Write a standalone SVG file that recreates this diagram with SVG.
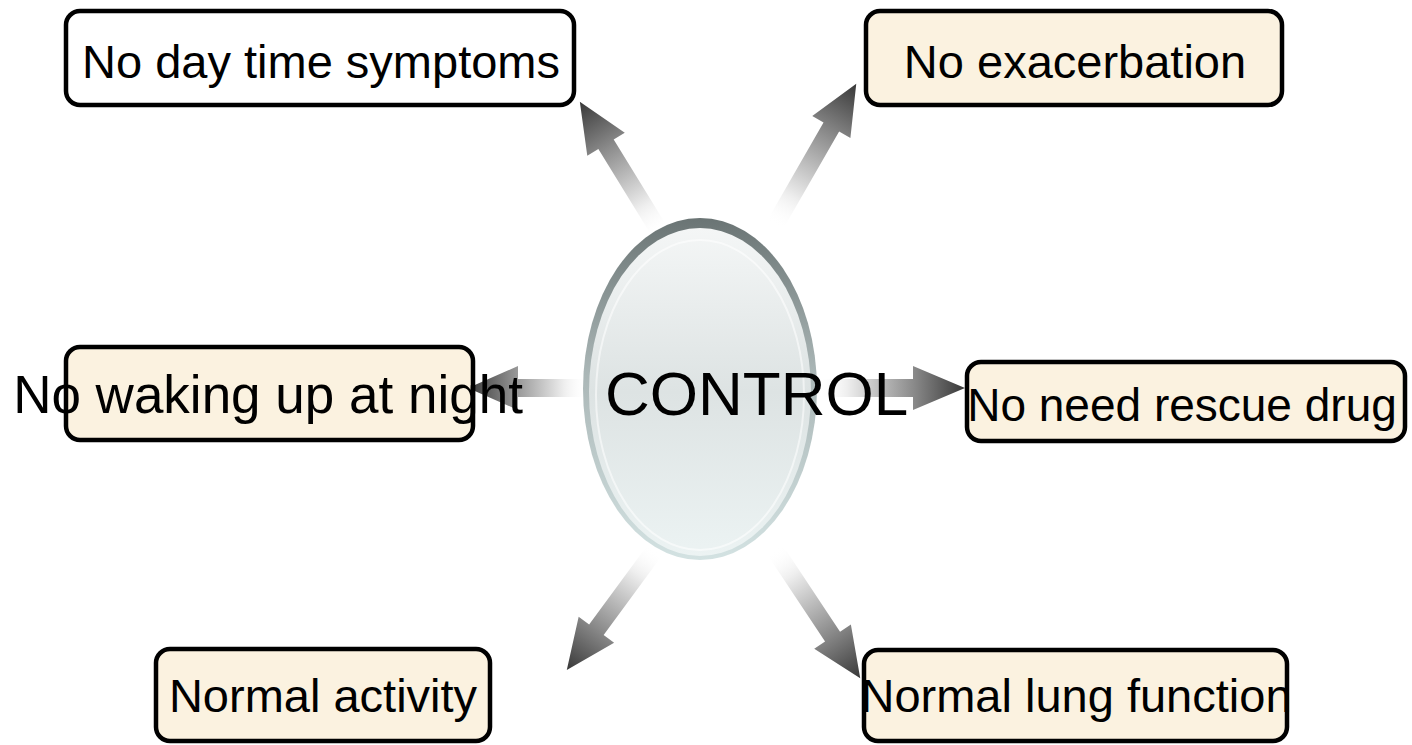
<svg xmlns="http://www.w3.org/2000/svg" width="1412" height="745" viewBox="0 0 1412 745">
<defs>
<style>
.box{stroke:#000;stroke-width:4.5}
.cream{fill:#FBF2E0}
.white{fill:#fff}
.lbl{font-family:"Liberation Sans",Arial,sans-serif;fill:#000;text-anchor:middle}
</style>
<linearGradient id="arr" x1="0" y1="0" x2="1" y2="0">
<stop offset="0" stop-color="#ffffff" stop-opacity="0"/>
<stop offset="0.2" stop-color="#eeeeee"/>
<stop offset="0.65" stop-color="#8a8a8a"/>
<stop offset="1" stop-color="#383838"/>
</linearGradient>
<linearGradient id="ring" x1="0" y1="0" x2="0" y2="1">
<stop offset="0" stop-color="#6a7474"/>
<stop offset="0.45" stop-color="#aab6b6"/>
<stop offset="1" stop-color="#d3e2e2"/>
</linearGradient>
<linearGradient id="face" x1="0" y1="0" x2="0" y2="1">
<stop offset="0" stop-color="#f4f6f6"/>
<stop offset="0.5" stop-color="#dde3e3"/>
<stop offset="1" stop-color="#ecf3f3"/>
</linearGradient>
<path id="arrow" d="M0,-9 L-50,-9 L-50,-23 L0,0 Z"/>
</defs>

<g id="connectors">
<polygon fill="url(#arr)" points="0,-9 0,9 103,9 103,22 153,0 103,-22 103,-9" transform="translate(660,232) rotate(-121.6)"/>
<polygon fill="url(#arr)" points="0,-9 0,9 113,9 113,22 163,0 113,-22 113,-9" transform="translate(775,225) rotate(-60.1)"/>
<polygon fill="url(#arr)" points="0,-9 0,9 99,9 99,22 149,0 99,-22 99,-9" transform="translate(655,550) rotate(126.3)"/>
<polygon fill="url(#arr)" points="0,-9 0,9 104,9 104,22 154,0 104,-22 104,-9" transform="translate(775,550) rotate(56.4)"/>
<polygon fill="url(#arr)" points="0,-9 0,9 70,9 70,22 120,0 70,-22 70,-9" transform="translate(588,388) rotate(180)"/>
<polygon fill="url(#arr)" points="0,-9 0,9 95,9 95,22 147,0 95,-22 95,-9" transform="translate(818,388)"/>
</g>

<g id="control">
<ellipse cx="700" cy="389" rx="117" ry="171" fill="url(#ring)"/>
<ellipse cx="700" cy="392" rx="111" ry="164" fill="url(#face)"/>
<ellipse cx="700" cy="395" rx="104" ry="155" fill="none" stroke="#ffffff" stroke-opacity="0.55" stroke-width="2"/>
<text x="605" y="415" font-family="Liberation Sans, Arial, sans-serif" font-size="62" fill="#000">CONTROL</text>
</g>

<g id="n1">
<rect class="box white" x="66" y="11" width="508" height="94" rx="14"/>
<text class="lbl" x="321" y="78" font-size="47">No day time symptoms</text>
</g>
<g id="n2">
<rect class="box cream" x="866" y="11" width="416" height="94" rx="14"/>
<text class="lbl" x="1075" y="78" font-size="47">No exacerbation</text>
</g>
<g id="n3">
<rect class="box cream" x="66" y="347" width="407" height="93" rx="14"/>
<text class="lbl" x="268" y="413" font-size="53">No waking up at night</text>
</g>
<g id="n4">
<rect class="box cream" x="967" y="362" width="438" height="79" rx="14"/>
<text class="lbl" x="1182" y="421" font-size="46">No need rescue drug</text>
</g>
<g id="n5">
<rect class="box cream" x="156" y="649" width="334" height="92" rx="14"/>
<text class="lbl" x="323" y="712" font-size="47">Normal activity</text>
</g>
<g id="n6">
<rect class="box cream" x="864" y="650" width="423" height="91" rx="14"/>
<text class="lbl" x="1076" y="712" font-size="47">Normal lung function</text>
</g>
</svg>
